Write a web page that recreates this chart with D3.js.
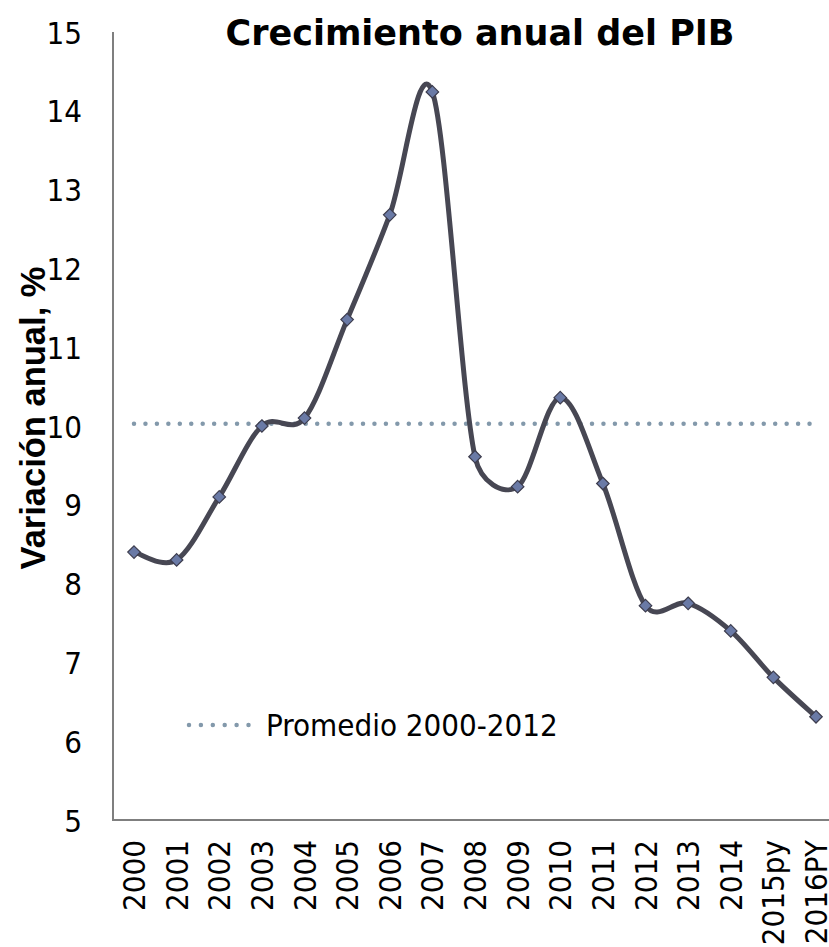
<!DOCTYPE html>
<html><head><meta charset="utf-8">
<script src="https://cdn.jsdelivr.net/npm/d3@7"></script>
<style>body{margin:0;background:#fff}svg{display:block}</style>
</head><body>
<script>
const categories = ["2000","2001","2002","2003","2004","2005","2006","2007","2008","2009","2010","2011","2012","2013","2014","2015py","2016PY"];
const growth = [8.40,8.30,9.10,10.00,10.10,11.35,12.68,14.24,9.61,9.23,10.36,9.27,7.72,7.75,7.40,6.81,6.31];
const average = 10.03;
const yTicks = [5,6,7,8,9,10,11,12,13,14,15];
const title = "Crecimiento anual del PIB";
const yLabel = "Variación anual, %";
const legendLabel = "Promedio 2000-2012";

const W = 829, H = 947;
const FONT = "'DejaVu Sans Condensed','DejaVu Sans',sans-serif";
const svg = d3.select("body").append("svg").attr("width", W).attr("height", H);

const x = d3.scalePoint().domain(categories).range([134, 816]);
const y = d3.scaleLinear().domain([5,15]).range([820, 32]);
const left = 113, bottom = 820;

// Excel-like smoothing curve for d3.line
function excelSmooth(context) {
  let pts = [];
  return {
    areaStart() {}, areaEnd() {},
    lineStart() { pts = []; },
    point(px, py) { pts.push([px, py]); },
    lineEnd() {
      const n = pts.length;
      if (!n) return;
      context.moveTo(pts[0][0], pts[0][1]);
      const dist = (a, b) => Math.hypot(b[0]-a[0], b[1]-a[1]);
      for (let i = 0; i < n - 1; i++) {
        const p0 = pts[Math.max(i-1, 0)], p1 = pts[i], p2 = pts[i+1], p3 = pts[Math.min(i+2, n-1)];
        const seg = dist(p1, p2);
        let t1 = [(p2[0]-p0[0])/6, (p2[1]-p0[1])/6];
        let t2 = [(p3[0]-p1[0])/6, (p3[1]-p1[1])/6];
        const l1 = Math.hypot(t1[0], t1[1]), l2 = Math.hypot(t2[0], t2[1]);
        if (l1 > seg/2) { t1 = [t1[0]*seg/2/l1, t1[1]*seg/2/l1]; }
        if (l2 > seg/2) { t2 = [t2[0]*seg/2/l2, t2[1]*seg/2/l2]; }
        context.bezierCurveTo(p1[0]+t1[0], p1[1]+t1[1], p2[0]-t2[0], p2[1]-t2[1], p2[0], p2[1]);
      }
    }
  };
}

// axes lines
svg.append("line").attr("x1", left).attr("x2", left).attr("y1", 32).attr("y2", bottom)
  .attr("stroke", "#7f7f7f").attr("stroke-width", 2);
svg.append("line").attr("x1", left - 1).attr("x2", W).attr("y1", bottom).attr("y2", bottom)
  .attr("stroke", "#7f7f7f").attr("stroke-width", 2);

// y tick labels
const yAxis = d3.axisLeft(y).tickValues(yTicks).tickSize(0).tickPadding(0).tickFormat(d3.format("d"));
const gy = svg.append("g").attr("transform", `translate(82,0)`).call(yAxis);
gy.select(".domain").remove();
gy.selectAll("text").attr("font-family", FONT).attr("font-size", 31).attr("fill", "#000").attr("dy", "0.36em");

// x tick labels
const xAxis = d3.axisBottom(x).tickSize(0).tickPadding(0);
const gx = svg.append("g").attr("transform", `translate(0,840)`).call(xAxis);
gx.select(".domain").remove();
gx.selectAll("text").attr("font-family", FONT).attr("font-size", 31).attr("fill", "#000")
  .attr("transform", "rotate(-90)").attr("text-anchor", "end").attr("x", 0).attr("y", 0).attr("dy", "0.34em").attr("dx", 0);

// average dotted line
svg.append("line").attr("x1", x(categories[0])).attr("x2", x(categories[categories.length-1]))
  .attr("y1", y(average)).attr("y2", y(average))
  .attr("stroke", "#8399ab").attr("stroke-width", 4.5).attr("stroke-linecap", "round")
  .attr("stroke-dasharray", "0 11.45");

// smoothed line
const line = d3.line().x((d,i) => x(categories[i])).y(d => y(d)).curve(excelSmooth);
svg.append("path").datum(growth).attr("d", line).attr("fill", "none")
  .attr("stroke", "#474753").attr("stroke-width", 5).attr("stroke-linejoin", "round");

// diamond markers
const sym = d3.symbol().type(d3.symbolDiamond2).size(100);
svg.selectAll("path.mk").data(growth).enter().append("path").attr("class", "mk")
  .attr("d", sym)
  .attr("transform", (d,i) => `translate(${x(categories[i])},${y(d)})`)
  .attr("fill", "#6a7aa6").attr("stroke", "#3d3d4e").attr("stroke-width", 1.2);

// title
svg.append("text").attr("x", 480).attr("y", 45).attr("text-anchor", "middle")
  .attr("font-family", "'DejaVu Sans',sans-serif").attr("font-weight", "bold").attr("font-size", 35).text(title);

// y label
svg.append("text").attr("transform", "translate(45,418) rotate(-90)").attr("text-anchor", "middle")
  .attr("font-family", "'Liberation Sans',Arial,sans-serif").attr("font-weight", "bold").attr("font-size", 34.5).text(yLabel);

// legend
svg.append("line").attr("x1", 189).attr("x2", 249).attr("y1", 725).attr("y2", 725)
  .attr("stroke", "#8399ab").attr("stroke-width", 4.5).attr("stroke-linecap", "round")
  .attr("stroke-dasharray", "0 11.9");
svg.append("text").attr("x", 266).attr("y", 725).attr("dy", "0.36em")
  .attr("font-family", FONT).attr("font-size", 31).text(legendLabel);
</script>
</body></html>
